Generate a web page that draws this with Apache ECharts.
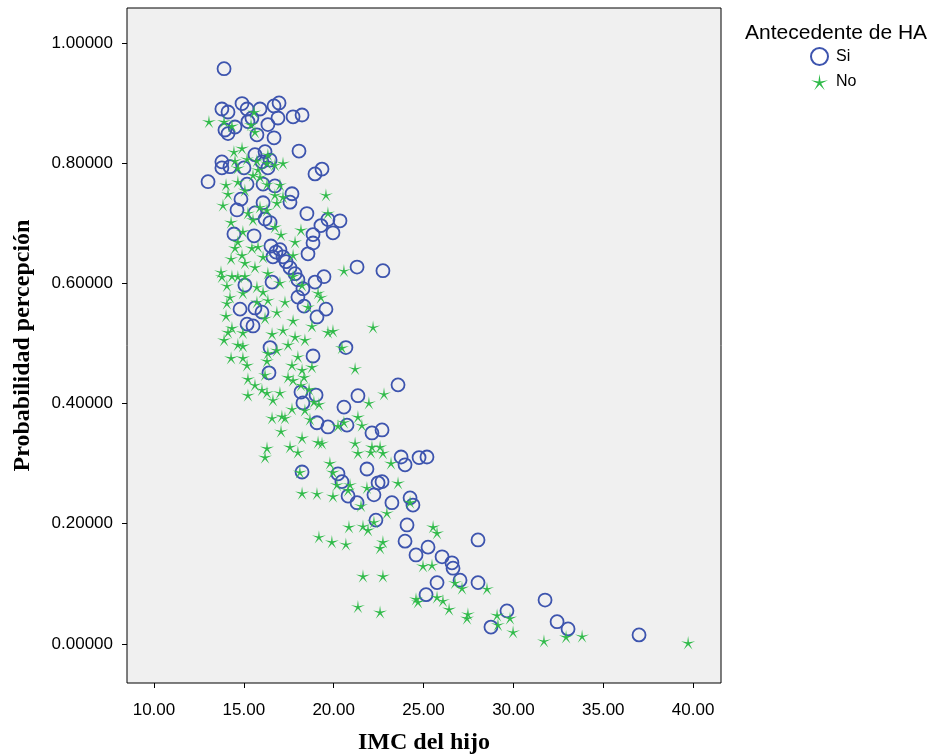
<!DOCTYPE html>
<html>
<head>
<meta charset="utf-8">
<script src="https://cdn.jsdelivr.net/npm/echarts@6/dist/echarts.min.js"></script>
<style>
html,body{margin:0;padding:0;background:#fff;}
#chart{width:933px;height:756px;}
</style>
</head>
<body>
<div id="chart"></div>
<script>
// ---- Data: IMC del hijo (x) vs Probabilidad percepción (y) ----
const seriesNames = ['Si', 'No'];
const legendTitle = 'Antecedente de HA';
const xTicks = [10, 15, 20, 25, 30, 35, 40];
const yTicks = [0, 0.2, 0.4, 0.6, 0.8, 1.0];

const siX = [13.90,13.78,14.12,14.90,15.18,15.90,16.68,16.96,16.34,16.90,17.74,18.24,13.95,14.12,14.51,15.23,15.45,15.73,16.68,18.07,
  13.78,13.78,14.23,15.62,16.18,15.01,16.34,13.01,15.18,16.07,16.73,17.68,17.57,14.84,14.62,16.07,15.62,16.18,16.46,14.45,
  15.57,16.51,17.01,16.62,17.18,17.57,17.85,16.57,15.06,18.01,18.96,19.35,18.51,19.29,19.68,20.35,19.96,18.85,18.85,18.57,
  21.30,22.74,18.29,18.01,18.35,18.96,19.46,19.57,19.07,14.79,15.62,16.01,15.18,15.51,16.46,16.40,18.18,20.68,18.85,23.58,
  19.02,18.29,21.35,20.57,19.07,19.68,20.74,22.13,22.69,23.75,23.97,24.75,25.19,18.24,20.24,21.85,20.46,22.47,22.69,20.80,
  21.30,22.24,23.24,24.25,24.41,22.35,24.08,23.97,24.58,25.25,26.03,26.58,26.64,28.03,27.03,25.75,28.03,25.14,29.64,28.75,
  31.76,32.43,33.04,36.99,16.01,16.46,16.79,17.35];
const siY = [0.957,0.890,0.885,0.899,0.890,0.890,0.895,0.900,0.864,0.875,0.877,0.880,0.855,0.849,0.860,0.869,0.875,0.847,0.842,0.820,
  0.802,0.792,0.794,0.814,0.819,0.792,0.792,0.769,0.765,0.765,0.762,0.749,0.735,0.740,0.722,0.734,0.717,0.707,0.701,0.682,
  0.679,0.662,0.656,0.644,0.644,0.626,0.616,0.602,0.597,0.606,0.782,0.790,0.716,0.696,0.706,0.704,0.684,0.681,0.667,0.649,
  0.627,0.621,0.591,0.577,0.562,0.602,0.611,0.557,0.544,0.557,0.559,0.552,0.532,0.529,0.493,0.451,0.419,0.493,0.479,0.431,
  0.414,0.401,0.413,0.394,0.368,0.361,0.364,0.351,0.356,0.311,0.298,0.310,0.311,0.286,0.283,0.291,0.270,0.268,0.270,0.246,
  0.235,0.248,0.235,0.243,0.231,0.206,0.198,0.171,0.148,0.161,0.145,0.135,0.126,0.173,0.106,0.102,0.102,0.082,0.055,0.028,
  0.073,0.037,0.025,0.015,0.802,0.805,0.652,0.636];

const noX = [13.06,13.90,14.34,15.57,15.40,15.62,14.45,14.90,14.51,15.18,15.73,16.34,17.18,16.73,14.67,15.79,16.29,14.01,14.12,13.84,
  14.67,15.06,15.51,15.90,16.29,17.01,16.73,17.18,16.84,14.29,15.23,15.51,15.90,16.29,16.73,17.07,17.85,18.18,14.67,14.95,
  14.51,14.29,14.90,15.06,15.45,15.79,16.07,15.62,13.73,13.78,14.34,14.67,15.06,14.06,15.73,16.34,17.01,17.74,17.74,14.95,
  14.23,16.07,16.34,15.73,17.29,14.06,16.84,14.01,16.18,17.74,14.34,14.12,14.95,17.18,16.57,17.85,13.90,14.67,14.95,17.46,
  16.84,16.34,16.29,18.01,17.68,14.29,14.95,15.18,15.23,16.18,17.46,17.74,15.62,16.01,15.23,16.29,17.01,16.62,18.18,18.24,
  17.68,16.57,17.12,17.29,17.07,18.24,16.29,16.18,17.57,18.01,18.12,18.24,20.57,18.24,19.13,19.29,18.57,18.79,18.40,19.68,
  19.96,22.19,20.46,21.19,18.79,18.35,18.63,18.90,19.18,18.40,18.68,22.80,21.96,21.35,21.57,20.24,20.57,19.13,19.35,21.19,
  22.13,22.58,21.35,22.07,22.74,19.79,19.96,23.19,20.18,20.91,20.80,21.85,23.58,19.07,19.96,21.52,24.25,22.96,20.85,21.63,
  21.91,22.24,19.18,19.90,20.68,22.74,22.58,25.53,25.75,24.97,25.47,21.63,22.74,24.58,24.69,21.35,22.58,26.75,27.14,28.53,
  25.75,26.08,26.42,27.47,27.42,29.09,29.81,29.14,29.98,31.70,32.93,33.82,39.72,19.57,19.68];
const noY = [0.869,0.869,0.862,0.885,0.864,0.852,0.819,0.825,0.804,0.807,0.804,0.814,0.800,0.797,0.792,0.789,0.800,0.764,0.749,0.730,
  0.769,0.755,0.780,0.777,0.765,0.764,0.747,0.744,0.734,0.702,0.717,0.706,0.727,0.722,0.694,0.681,0.669,0.689,0.669,0.686,
  0.659,0.641,0.647,0.634,0.659,0.661,0.644,0.627,0.619,0.611,0.612,0.611,0.612,0.596,0.594,0.617,0.601,0.647,0.612,0.584,
  0.577,0.586,0.572,0.569,0.569,0.567,0.552,0.546,0.542,0.538,0.526,0.519,0.518,0.522,0.516,0.511,0.506,0.498,0.496,0.498,
  0.489,0.484,0.471,0.478,0.464,0.476,0.476,0.464,0.441,0.448,0.444,0.439,0.431,0.423,0.414,0.418,0.418,0.406,0.431,0.456,
  0.391,0.376,0.379,0.376,0.354,0.343,0.326,0.311,0.328,0.319,0.286,0.251,0.621,0.597,0.584,0.577,0.561,0.529,0.506,0.519,
  0.521,0.527,0.493,0.458,0.461,0.444,0.424,0.403,0.399,0.389,0.374,0.416,0.401,0.378,0.364,0.363,0.369,0.336,0.334,0.334,
  0.328,0.328,0.318,0.319,0.318,0.301,0.286,0.301,0.265,0.265,0.256,0.260,0.268,0.250,0.246,0.230,0.236,0.218,0.195,0.196,
  0.190,0.203,0.178,0.170,0.166,0.170,0.160,0.195,0.185,0.130,0.131,0.113,0.113,0.075,0.070,0.062,0.053,0.102,0.093,0.092,
  0.078,0.072,0.058,0.050,0.043,0.048,0.043,0.032,0.020,0.005,0.012,0.013,0.002,0.747,0.717];

// ---- Styling ----
const BLUE = '#3d54ae';
const GREEN = '#2eba48';

function starPath(n, R, r) {
  let d = '';
  for (let i = 0; i < 2 * n; i++) {
    const a = (-90 + i * 180 / n) * Math.PI / 180;
    const rad = i % 2 ? r : R;
    d += (i ? 'L' : 'M') + (50 + rad * Math.cos(a)).toFixed(2) + ' ' + (50 + rad * Math.sin(a)).toFixed(2);
  }
  return 'path://' + d + 'Z';
}
const STAR = starPath(5, 50, 10);

const zip = (xs, ys) => xs.map((v, i) => [v, ys[i]]);

const chart = echarts.init(document.getElementById('chart'), null, {renderer: 'canvas'});
chart.setOption({
  animation: false,
  backgroundColor: '#ffffff',
  textStyle: {fontFamily: 'Liberation Sans, Arial, sans-serif'},
  grid: {left: 127, right: 212, top: 8, bottom: 73, outerBoundsMode: 'none', show: true, backgroundColor: '#f0f0f0', borderColor: '#000', borderWidth: 1},
  graphic: [{
    type: 'text', left: 745, top: 23,
    style: {text: legendTitle, fontSize: 21, fill: '#000', fontFamily: 'Liberation Sans, Arial, sans-serif'}
  }],
  legend: {
    orient: 'vertical', left: 805, top: 42, itemWidth: 17, itemHeight: 17, itemGap: 8,
    textStyle: {fontSize: 16, color: '#000', padding: [0, 0, 0, 3]},
    data: seriesNames
  },
  xAxis: {
    type: 'value', min: 8.5, max: 41.55,
    name: 'IMC del hijo', nameLocation: 'middle', nameGap: 48,
    nameTextStyle: {fontFamily: 'Liberation Serif, Times New Roman, serif', fontWeight: 'bold', fontSize: 24, color: '#000'},
    axisLine: {show: false, onZero: false},
    axisTick: {show: true, inside: false, length: 5, lineStyle: {color: '#000'}, customValues: xTicks},
    axisLabel: {customValues: xTicks, margin: 19, fontSize: 17, color: '#000', formatter: v => v.toFixed(2)},
    splitLine: {show: false}
  },
  yAxis: {
    type: 'value', min: -0.065, max: 1.058,
    name: 'Probabilidad percepción', nameLocation: 'middle', nameGap: 92,
    nameTextStyle: {fontFamily: 'Liberation Serif, Times New Roman, serif', fontWeight: 'bold', fontSize: 24, color: '#000'},
    axisLine: {show: false, onZero: false},
    axisTick: {show: true, inside: false, length: 5, lineStyle: {color: '#000'}, customValues: yTicks},
    axisLabel: {customValues: yTicks, margin: 14, fontSize: 17, color: '#000', formatter: v => v.toFixed(5)},
    splitLine: {show: false}
  },
  series: [
    {
      name: seriesNames[0], type: 'scatter', symbol: 'circle', symbolSize: 13,
      itemStyle: {color: 'rgba(0,0,0,0)', borderColor: BLUE, borderWidth: 1.8, opacity: 1},
      data: zip(siX, siY)
    },
    {
      name: seriesNames[1], type: 'scatter', symbol: STAR, symbolSize: 14, symbolKeepAspect: true,
      itemStyle: {color: GREEN, opacity: 1},
      data: zip(noX, noY)
    }
  ]
});
</script>
</body>
</html>
